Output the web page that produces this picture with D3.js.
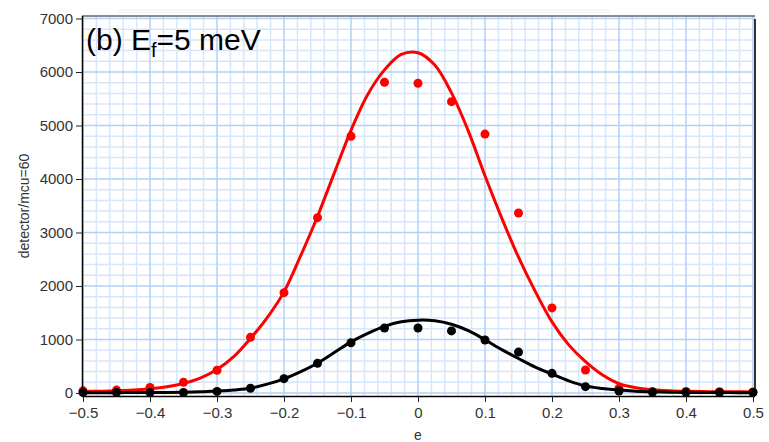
<!DOCTYPE html>
<html>
<head>
<meta charset="utf-8">
<script src="https://cdn.jsdelivr.net/npm/d3@7/dist/d3.min.js"></script>
<style>
  body { margin: 0; background: #fff; }
  svg { display: block; font-family: "Liberation Sans", Arial, sans-serif; }
  .tick-label { font-size: 15px; fill: #333; }
  .axis-title { font-size: 14px; fill: #333; }
</style>
</head>
<body>
<svg id="chart"></svg>
<script>
// energy transfer of each scan point
const scanE = [-0.5, -0.45, -0.4, -0.35, -0.3, -0.25, -0.2, -0.15, -0.1, -0.05, 0,
  0.05, 0.1, 0.15, 0.2, 0.25, 0.3, 0.35, 0.4, 0.45, 0.5];
// measured counts (detector / mcu=60)
const redCounts = [40, 55, 105, 200, 425, 1040, 1875, 3277, 4800, 5808, 5790,
  5445, 4840, 3365, 1590, 430, 88, 30, 28, 25, 20];
const blackCounts = [10, 10, 10, 10, 30, 88, 268, 555, 940, 1215, 1215,
  1160, 990, 765, 368, 118, 37, 13, 13, 10, 10];

// fitted curves, sampled on a finer grid
const fitE = [-0.5, -0.475, -0.45, -0.425, -0.4, -0.375, -0.35, -0.325, -0.3, -0.275,
  -0.25, -0.225, -0.2, -0.175, -0.15, -0.125, -0.1, -0.075, -0.05, -0.025, 0,
  0.025, 0.05, 0.075, 0.1, 0.125, 0.15, 0.175, 0.2, 0.225, 0.25,
  0.275, 0.3, 0.325, 0.35, 0.375, 0.4, 0.425, 0.45, 0.475, 0.5];
const redFit = [28, 33, 42, 55, 78, 115, 180, 280, 440, 680,
  1020, 1410, 1890, 2570, 3300, 4110, 4910, 5580, 6040, 6330, 6360,
  6130, 5610, 4900, 4060, 3270, 2540, 1900, 1330, 900, 585,
  340, 175, 100, 62, 42, 32, 27, 24, 22, 21];
const blackFit = [6, 6, 7, 8, 9, 11, 14, 22, 38, 58,
  90, 165, 265, 400, 557, 755, 955, 1115, 1245, 1330, 1362,
  1350, 1285, 1165, 995, 810, 645, 485, 355, 228, 133,
  85, 54, 34, 22, 15, 11, 9, 8, 7, 7];

const xTicks = [-0.5, -0.4, -0.3, -0.2, -0.1, 0, 0.1, 0.2, 0.3, 0.4, 0.5];
const yTicks = [0, 1000, 2000, 3000, 4000, 5000, 6000, 7000];

const series = [
  { name: "red", color: "#ff0000", counts: redCounts, fit: redFit },
  { name: "black", color: "#000000", counts: blackCounts, fit: blackFit },
];

const width = 769, height = 442;
const frame = { left: 82, right: 755, top: 16, bottom: 396 };

const svg = d3.select("#chart").attr("width", width).attr("height", height);

const x = d3.scaleLinear().domain([-0.5, 0.5]).range([83, 753]);
const y = d3.scaleLinear().domain([0, 7000]).range([393, 18.5]);

// faint strip at the very top
svg.append("rect")
  .attr("x", 118).attr("y", 9).attr("width", 492).attr("height", 4)
  .attr("fill", "#f7f7f7");

// grid: minor every 0.02 / 200, major every 0.1 / 1000
const grid = svg.append("g").attr("class", "grid");
const vLines = d3.range(0, 51).map(i => -0.5 + i * 0.02);
const hLines = d3.range(0, 36).map(i => i * 200);

grid.selectAll(".v-minor")
  .data(vLines.filter((d, i) => i % 5 !== 0))
  .join("line")
  .attr("x1", d => x(d)).attr("x2", d => x(d))
  .attr("y1", frame.top).attr("y2", frame.bottom)
  .attr("stroke", "#d6e7fc").attr("stroke-width", 1.5);

grid.selectAll(".h-minor")
  .data(hLines.filter((d, i) => i % 5 !== 0))
  .join("line")
  .attr("x1", frame.left).attr("x2", frame.right)
  .attr("y1", d => y(d)).attr("y2", d => y(d))
  .attr("stroke", "#d6e7fc").attr("stroke-width", 1.5);

grid.selectAll(".v-major")
  .data(xTicks)
  .join("line")
  .attr("x1", d => x(d)).attr("x2", d => x(d))
  .attr("y1", frame.top).attr("y2", frame.bottom)
  .attr("stroke", "#b0d0f7").attr("stroke-width", 1.5);

grid.selectAll(".h-major")
  .data(yTicks)
  .join("line")
  .attr("x1", frame.left).attr("x2", frame.right)
  .attr("y1", d => y(d)).attr("y2", d => y(d))
  .attr("stroke", "#b0d0f7").attr("stroke-width", 1.5);

// frame
svg.append("line")
  .attr("x1", frame.left).attr("x2", frame.right)
  .attr("y1", frame.top).attr("y2", frame.top)
  .attr("stroke", "#666").attr("stroke-width", 1.5);
svg.append("line")
  .attr("x1", frame.right).attr("x2", frame.right)
  .attr("y1", frame.top + 3).attr("y2", frame.bottom)
  .attr("stroke", "#333").attr("stroke-width", 2);

// curves and points
const line = d3.line()
  .x((d, i) => x(fitE[i]))
  .y(d => y(d))
  .curve(d3.curveCatmullRom.alpha(0.5));

const plot = svg.append("g");

series.forEach(s => {
  plot.append("path")
    .datum(s.fit)
    .attr("fill", "none")
    .attr("stroke", s.color)
    .attr("stroke-width", 3)
    .attr("d", line);

  plot.selectAll(`.pt-${s.name}`)
    .data(s.counts)
    .join("circle")
    .attr("class", `pt-${s.name}`)
    .attr("cx", (d, i) => x(scanE[i]))
    .attr("cy", d => y(d))
    .attr("r", 4.5)
    .attr("fill", s.color);
});

// axes
const xAxis = d3.axisBottom(x).tickValues(xTicks).tickSize(6).tickPadding(5)
  .tickFormat(d3.format(""));
const xAxisG = svg.append("g")
  .attr("transform", `translate(0,${frame.bottom})`)
  .call(xAxis);
xAxisG.select(".domain").attr("d", `M${frame.left},0.5H${frame.right}`)
  .attr("stroke", "#000").attr("stroke-width", 1.5);
xAxisG.selectAll(".tick line").attr("stroke", "#222");
xAxisG.selectAll(".tick text").attr("class", "tick-label")
  .attr("font-family", null).attr("font-size", null).attr("fill", null);

const yAxis = d3.axisLeft(y).tickValues(yTicks).tickSize(6).tickPadding(3)
  .tickFormat(d3.format("d"));
const yAxisG = svg.append("g")
  .attr("transform", `translate(${frame.left},0)`)
  .call(yAxis);
yAxisG.select(".domain").attr("d", `M0.5,${frame.top}V${frame.bottom}`)
  .attr("stroke", "#000").attr("stroke-width", 1.5);
yAxisG.selectAll(".tick line").attr("stroke", "#222");
yAxisG.selectAll(".tick text").attr("class", "tick-label")
  .attr("font-family", null).attr("font-size", null).attr("fill", null);

// axis titles
svg.append("text")
  .attr("class", "axis-title")
  .attr("x", x(0)).attr("y", 440)
  .attr("text-anchor", "middle")
  .text("e");

svg.append("text")
  .attr("class", "axis-title")
  .attr("transform", "translate(29,206) rotate(-90)")
  .attr("text-anchor", "middle")
  .attr("font-size", "15px")
  .text("detector/mcu=60");

// panel label
const title = svg.append("text")
  .attr("x", 86).attr("y", 50)
  .attr("font-size", "30px")
  .attr("fill", "#000");
title.append("tspan").text("(b) E");
title.append("tspan").attr("font-size", "20px").attr("dy", 7).text("f");
title.append("tspan").attr("dy", -7).text("=5 meV");
</script>
</body>
</html>
